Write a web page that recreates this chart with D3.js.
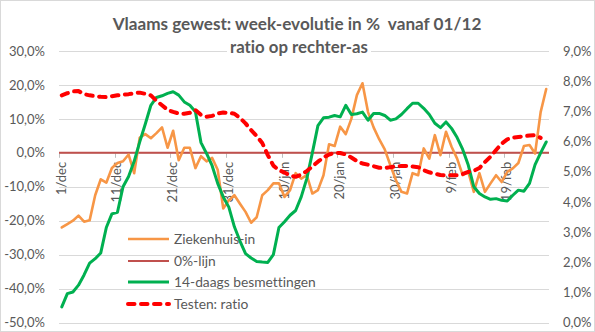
<!DOCTYPE html>
<html>
<head>
<meta charset="utf-8">
<script src="https://cdn.jsdelivr.net/npm/d3@7"></script>
<style>
  html, body { margin: 0; padding: 0; background: #fff; }
  svg { display: block; }
  text { font-family: Lato, "Open Sans", sans-serif; fill: #595959; font-variant-ligatures: none; white-space: pre; }
</style>
</head>
<body>
<svg id="chart" width="595" height="332"></svg>
<script>
// ---- data ----
const nDays = 88; // 1/dec .. 26/feb
const xTickLabels = ["1/dec","11/dec","21/dec","31/dec","10/jan","20/jan","30/jan","9/feb","19/feb"];
const xTickEvery = 10;
const leftTicks = [30, 20, 10, 0, -10, -20, -30, -40, -50];
const rightTicks = [9, 8, 7, 6, 5, 4, 3, 2, 1, 0];
const titleLines = ["Vlaams gewest: week-evolutie in %  vanaf 01/12", "ratio op rechter-as"];
const legendLabels = ["Ziekenhuis-in", "0%-lijn", "14-daags besmettingen", "Testen: ratio"];

const ziekenhuisIn = [
  -22, -21, -20, -18.5, -20.3, -19.9, -12.5, -7.8, -8.8, -4.5,
  -3, -2.5, -0.5, -6, 4.5, 5.5, 4.3, 5.8, 7.5, 1.5,
  6.5, -2.2, 1.5, 1.5, -4.5, -1, -2.5, -1.5, -5, -16.4,
  -14, -12.5, -15, -17.4, -20.6, -19, -12.5, -11, -9, -9,
  -13, -11, -6, -7.6, -6.6, -12, -11, -6.6, 2.5, 2,
  7.7, 5.5, 10, 17, 20.5, 12, 7.5, 4, 1, -3.6,
  -8, -11.5, -12, -6, -6.6, 1.3, -1.7, 5.2, -0.7, 6.2,
  1.8, -1.7, -6.6, -5.6, -11.5, -6, -11.5, -9, -6.6, -8.6,
  -5.6, -4.6, -3, 2, 2.3, -0.2, 12, 18.8
];
const nulLijn = new Array(nDays).fill(0);
const besmettingen14 = [
  -45.4, -41.5, -41, -39, -36, -32.5, -31.2, -29.5, -22, -18,
  -17.5, -10, -7, -2.5, 3.2, 8.5, 14, 16.3, 16.8, 17.5,
  18, 17, 15, 14, 12.1, 3, -0.2, -3.8, -9, -13,
  -16, -21.8, -26, -29.7, -31, -32, -32.2, -32.3, -30, -22,
  -20.3, -18.4, -17, -13, -7.6, 0, 8, 10.3, 10.5, 11,
  10.6, 14, 11.3, 11.5, 12, 9.6, 11.6, 11.6, 11, 9.6,
  10, 11.3, 13, 14.6, 14.6, 13.1, 11.3, 8.7, 7.4, 9.1,
  7.2, 4.5, 1, -3.6, -10, -12, -13, -13.7, -13.5, -14,
  -14.2, -12.5, -11, -11.3, -9, -3.5, 0, 3.2
];
const testenRatio = [
  7.53, 7.6, 7.66, 7.67, 7.57, 7.53, 7.5, 7.48, 7.47, 7.5,
  7.53, 7.55, 7.57, 7.6, 7.62, 7.58, 7.53, 7.35, 7.2, 7.05,
  6.98, 6.93, 6.92, 6.95, 7.04, 6.88, 6.82, 6.85, 6.93, 6.96,
  6.95, 6.92, 6.78, 6.6, 6.38, 6.18, 5.95, 5.55, 5.2, 5.05,
  4.97, 4.87, 4.83, 4.9, 5.02, 5.17, 5.33, 5.47, 5.57, 5.62,
  5.62, 5.57, 5.47, 5.35, 5.27, 5.23, 5.18, 5.13, 5.12, 5.15,
  5.17, 5.19, 5.19, 5.17, 5.15, 5.05, 4.98, 4.93, 4.89, 4.88,
  4.88, 4.88, 4.92, 4.99, 5.03, 5.12, 5.32, 5.5, 5.72, 5.93,
  6.07, 6.13, 6.15, 6.17, 6.2, 6.21, 6.12
];

// ---- layout ----
const W = 595, H = 332;
const plot = { left: 59, right: 549, top: 51, bottom: 322.5 };
const colors = { orange: "#F79646", zero: "#C0504D", green: "#00B050", red: "#FF0000", grid: "#D9D9D9" };

const svg = d3.select("#chart");
svg.append("rect").attr("x", 0.5).attr("y", 0.5).attr("width", W - 1).attr("height", H - 1)
  .attr("fill", "#fff").attr("stroke", "#D9D9D9");

const categories = d3.range(nDays);
const x = d3.scaleBand().domain(categories).range([plot.left, plot.right]).padding(0);
const yL = d3.scaleLinear().domain([-50, 30]).range([plot.bottom, plot.top]);
const yR = d3.scaleLinear().domain([0, 9]).range([plot.bottom, plot.top]);
const cx = i => x(i) + x.bandwidth() / 2;
const fmt = v => v.toFixed(1).replace(".", ",") + "%";

// gridlines
svg.append("g").selectAll("line").data(leftTicks).join("line")
  .attr("x1", plot.left).attr("x2", plot.right)
  .attr("y1", d => Math.round(yL(d)) + 0.5).attr("y2", d => Math.round(yL(d)) + 0.5)
  .attr("stroke", colors.grid).attr("stroke-width", 1);

// left axis labels
svg.append("g").selectAll("text").data(leftTicks).join("text")
  .attr("x", 45).attr("y", d => yL(d)).attr("dy", "0.36em")
  .attr("text-anchor", "end").attr("font-size", 13).text(fmt);

// right axis labels
svg.append("g").selectAll("text").data(rightTicks).join("text")
  .attr("x", 563).attr("y", d => yR(d)).attr("dy", "0.36em")
  .attr("text-anchor", "start").attr("font-size", 13).text(fmt);

// category ticks + labels
const tickIdx = xTickLabels.map((_, k) => k * xTickEvery);
svg.append("g").selectAll("line").data(tickIdx).join("line")
  .attr("x1", d => Math.round(x(d)) + 0.5).attr("x2", d => Math.round(x(d)) + 0.5)
  .attr("y1", yL(0)).attr("y2", yL(0) + 5)
  .attr("stroke", "#BFBFBF");
svg.append("g").selectAll("text").data(tickIdx).join("text")
  .attr("transform", d => `translate(${cx(d) + 4},${yL(0) + 9}) rotate(-90)`)
  .attr("text-anchor", "end").attr("font-size", 13)
  .text((d, k) => xTickLabels[k]);

// zero line (0%-lijn)
svg.append("line")
  .attr("x1", plot.left).attr("x2", plot.right)
  .attr("y1", yL(nulLijn[0])).attr("y2", yL(nulLijn[nDays - 1]))
  .attr("stroke", colors.zero).attr("stroke-width", 2);

// series
const lineL = d3.line().x((d, i) => cx(i)).y(d => yL(d));
const lineR = d3.line().x((d, i) => cx(i)).y(d => yR(d));

svg.append("path").datum(ziekenhuisIn).attr("d", lineL)
  .attr("fill", "none").attr("stroke", colors.orange).attr("stroke-width", 2.6)
  .attr("stroke-linejoin", "round").attr("stroke-linecap", "round");
svg.append("path").datum(besmettingen14).attr("d", lineL)
  .attr("fill", "none").attr("stroke", colors.green).attr("stroke-width", 3)
  .attr("stroke-linejoin", "round").attr("stroke-linecap", "round");
svg.append("path").datum(testenRatio).attr("d", lineR)
  .attr("fill", "none").attr("stroke", colors.red).attr("stroke-width", 4)
  .attr("stroke-dasharray", "6.5,6.5").attr("stroke-linecap", "round")
  .attr("stroke-linejoin", "round");

// title
const tg = svg.append("g");
const t1 = tg.append("text").attr("x", 297).attr("y", 30).attr("text-anchor", "middle")
  .attr("font-weight", "bold").attr("font-size", 16).text(titleLines[0]);
const w1 = t1.node().getComputedTextLength();
t1.attr("font-size", 16 * 369 / w1);
const bgRect = tg.append("rect").attr("fill", "#fff");
const t2 = tg.append("text").attr("x", 299).attr("y", 53).attr("text-anchor", "middle")
  .attr("font-weight", "bold").attr("font-size", 16).text(titleLines[1]);
const w2 = t2.node().getComputedTextLength();
t2.attr("font-size", 16 * 138 / w2);
const bb = t2.node().getBBox();
bgRect.attr("x", bb.x - 3).attr("y", bb.y).attr("width", bb.width + 6).attr("height", bb.height);

// legend
const legendY = [239, 261, 282, 304];
const legendStyles = [
  { c: colors.orange, w: 2.6, dash: null },
  { c: colors.zero, w: 2, dash: null },
  { c: colors.green, w: 3, dash: null },
  { c: colors.red, w: 4, dash: "6.5,6.5" }
];
const lg = svg.append("g");
const legendTexts = [];
legendLabels.forEach((lab, k) => {
  const s = legendStyles[k];
  const ln = lg.append("line").attr("x1", 128).attr("x2", 169)
    .attr("y1", legendY[k]).attr("y2", legendY[k])
    .attr("stroke", s.c).attr("stroke-width", s.w);
  if (s.dash) ln.attr("stroke-dasharray", s.dash).attr("stroke-linecap", "round");
  legendTexts.push(lg.append("text").attr("x", 174).attr("y", legendY[k]).attr("dy", "0.36em")
    .attr("font-size", 13).text(lab));
});
const wl = legendTexts[2].node().getComputedTextLength();
const lfs = Math.min(14, 13 * 142 / wl);
legendTexts.forEach(t => t.attr("font-size", lfs));
</script>
</body>
</html>
